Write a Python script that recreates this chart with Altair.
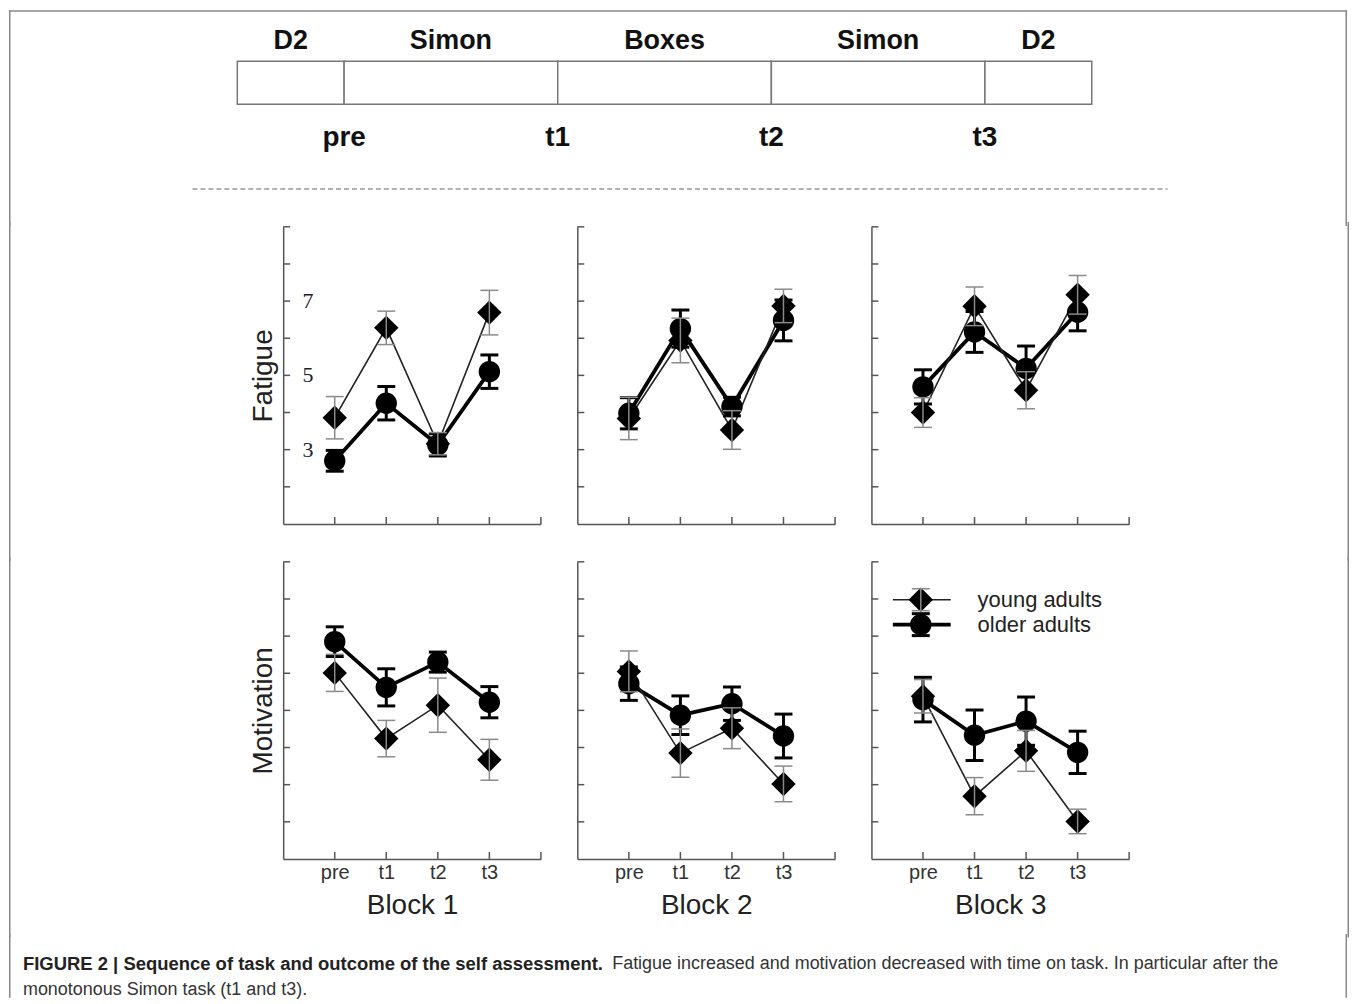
import json
import pandas as pd
import altair as alt

# ---------------- data ----------------
timepoints = ["pre", "t1", "t2", "t3"]
blocks = ["Block 1", "Block 2", "Block 3"]
measures = ["Fatigue", "Motivation"]
legend_labels = ["young adults", "older adults"]

# means and error-bar half widths, one list per block (pre, t1, t2, t3)
fatigue_young_mean = [[3.86, 6.28, 3.16, 6.69], [3.84, 5.94, 3.53, 6.87], [4.00, 6.86, 4.60, 7.17]]
fatigue_young_err = [[0.57, 0.45, 0.30, 0.60], [0.57, 0.60, 0.52, 0.45], [0.40, 0.52, 0.50, 0.52]]
fatigue_older_mean = [[2.70, 4.25, 3.13, 5.10], [3.98, 6.26, 4.16, 6.48], [4.69, 6.17, 5.19, 6.70]]
fatigue_older_err = [[0.28, 0.45, 0.30, 0.45], [0.42, 0.50, 0.25, 0.55], [0.46, 0.55, 0.60, 0.50]]

motivation_young_mean = [[6.01, 4.24, 5.14, 3.67], [6.05, 3.85, 4.52, 3.02], [5.38, 2.69, 3.91, 2.01]]
motivation_young_err = [[0.50, 0.49, 0.73, 0.55], [0.55, 0.65, 0.55, 0.48], [0.45, 0.50, 0.55, 0.33]]
motivation_older_mean = [[6.85, 5.62, 6.30, 5.22], [5.72, 4.87, 5.18, 4.31], [5.29, 4.33, 4.71, 3.87]]
motivation_older_err = [[0.40, 0.50, 0.27, 0.42], [0.45, 0.52, 0.45, 0.59], [0.60, 0.68, 0.65, 0.57]]

y_domain = [1, 9]
x_domain = [0, 5]
y_tick_values = [2, 3, 4, 5, 6, 7, 8, 9]
x_tick_values = [1, 2, 3, 4, 5]
fatigue_tick_labels = [3, 5, 7]

segments = ["D2", "Simon", "Boxes", "Simon", "D2"]
segment_lengths = [0.5, 1, 1, 1, 0.5]
assessments = ["pre", "t1", "t2", "t3"]

caption_bold = "FIGURE 2 | Sequence of task and outcome of the self assessment."
caption_rest = [
    "Fatigue increased and motivation decreased with time on task. In particular after the",
    "monotonous Simon task (t1 and t3).",
]

# ---------------- layout / style ----------------
FONT = "Liberation Sans"
AX = "#555555"
FRAME = "#888888"
FULLW = 1342
OVERLAP = 8              # frame segments of stacked blocks overlap by this much
TOP_EXT = 208.5 + OVERLAP
LEAD = -4
PW = 258.5
PH = 298
GAP = 36
LSPACER = 238.5
RSPACER = 184
ROW1_EXT = PH + 28.5 + OVERLAP
ROW2_EXT = PH + 70 + OVERLAP
CAP_EXT = 58.5
BOX_LEFT = 229
UNIT = 214.25
TICK = 7
DIAMOND = 600
CIRCLE = 460

one = pd.DataFrame({"k": [0]})


def vline(x, y1, y2):
    return alt.Chart(one).mark_rule(color=FRAME, strokeWidth=1.5, strokeCap="square").encode(
        x=alt.value(x), y=alt.value(y1), y2=alt.value(y2))


# ---------------- top timeline ----------------
starts, s = [], 0.0
for L in segment_lengths:
    starts.append(s)
    s += L
seg_df = pd.DataFrame({
    "name": segments,
    "start": starts,
    "end": [a + b for a, b in zip(starts, segment_lengths)],
})
seg_df["mid"] = (seg_df["start"] + seg_df["end"]) / 2
tp_df = pd.DataFrame({"name": assessments, "pos": list(seg_df["end"][:-1])})

xs_top = alt.Scale(domain=[-BOX_LEFT / UNIT, (FULLW - BOX_LEFT) / UNIT], nice=False, zero=False)

box = alt.Chart(seg_df).mark_rect(fill="white", stroke="#777777", strokeWidth=1.5).encode(
    x=alt.X("start:Q", scale=xs_top, axis=None), x2="end:Q",
    y=alt.value(52), y2=alt.value(95))
seg_text = alt.Chart(seg_df).mark_text(font=FONT, fontWeight="bold", fontSize=27, color="#111111",
                                       baseline="middle").encode(
    x=alt.X("mid:Q", scale=xs_top, axis=None), y=alt.value(32), text="name:N")
tp_text = alt.Chart(tp_df).mark_text(font=FONT, fontWeight="bold", fontSize=28, color="#111111",
                                     baseline="middle").encode(
    x=alt.X("pos:Q", scale=xs_top, axis=None), y=alt.value(129), text="name:N")
dashed = alt.Chart(one).mark_rule(color="#999999", strokeWidth=1.5, strokeDash=[5, 3]).encode(
    x=alt.value(184), x2=alt.value(1162), y=alt.value(180))
top_frame = alt.Chart(one).mark_rule(color=FRAME, strokeWidth=1.5, strokeCap="square").encode(
    x=alt.value(0.75), x2=alt.value(FULLW - 0.75), y=alt.value(1.5))

top_chart = alt.layer(
    box, seg_text, tp_text, dashed, top_frame,
    vline(0.75, 1.5, TOP_EXT), vline(FULLW - 0.75, 1.5, TOP_EXT)
).properties(width=FULLW, height=190)


# ---------------- panels ----------------
def panel(row, bi):
    if row == 0:
        ym, ye, om, oe = fatigue_young_mean, fatigue_young_err, fatigue_older_mean, fatigue_older_err
    else:
        ym, ye, om, oe = motivation_young_mean, motivation_young_err, motivation_older_mean, motivation_older_err
    recs = []
    for g, M, E in [(legend_labels[0], ym, ye), (legend_labels[1], om, oe)]:
        for i, tp in enumerate(timepoints):
            m, e = M[bi][i], E[bi][i]
            recs.append({"group": g, "tp": tp, "pos": i + 1, "mean": m, "lo": m - e, "hi": m + e})
    df = pd.DataFrame(recs)

    xscale = alt.Scale(domain=x_domain, nice=False, zero=False)
    yscale = alt.Scale(domain=y_domain, nice=False, zero=False)
    if row == 1:
        xaxis = alt.Axis(domain=True, domainColor=AX, domainWidth=1.5, ticks=False, grid=False,
                         values=[1, 2, 3, 4],
                         labelExpr=json.dumps(timepoints) + "[datum.value - 1]",
                         labelFont=FONT, labelFontSize=20, labelColor="#333333", labelPadding=4,
                         titleFont=FONT, titleFontSize=28, titleFontWeight="normal",
                         titleColor="#222222", titlePadding=9)
        xtitle = blocks[bi]
    else:
        xaxis = alt.Axis(domain=True, domainColor=AX, domainWidth=1.5, ticks=False, grid=False,
                         labels=False)
        xtitle = None
    yaxis = alt.Axis(domain=True, domainColor=AX, domainWidth=1.5, ticks=False, grid=False,
                     labels=False, titleFont=FONT, titleFontSize=28, titleFontWeight="normal",
                     titleColor="#222222", titlePadding=6)
    ytitle = measures[row] if bi == 0 else None

    def X(f):
        return alt.X(f, type="quantitative", scale=xscale, axis=xaxis, title=xtitle)

    def Y(f):
        return alt.Y(f, type="quantitative", scale=yscale, axis=yaxis, title=ytitle)

    ytk = alt.Chart(pd.DataFrame({"v": y_tick_values})).mark_rule(color=AX, strokeWidth=1.5).encode(
        y=Y("v"), x=alt.value(0), x2=alt.value(TICK))
    xtk = alt.Chart(pd.DataFrame({"v": x_tick_values})).mark_rule(color=AX, strokeWidth=1.5).encode(
        x=X("v"), y=alt.value(PH), y2=alt.value(PH - TICK))

    young = alt.Chart(df).transform_filter(alt.datum.group == legend_labels[0])
    older = alt.Chart(df).transform_filter(alt.datum.group == legend_labels[1])

    line_o = older.mark_line(color="black", strokeWidth=3.8).encode(x=X("pos"), y=Y("mean"))
    line_y = young.mark_line(color="#222222", strokeWidth=1.6).encode(x=X("pos"), y=Y("mean"))
    pt_o = older.mark_point(shape="circle", filled=True, size=CIRCLE, color="black", opacity=1).encode(
        x=X("pos"), y=Y("mean"))
    pt_y = young.mark_point(shape="diamond", filled=True, size=DIAMOND, color="black", opacity=1).encode(
        x=X("pos"), y=Y("mean"))

    def errbars(base, color, w):
        bar = base.mark_rule(color=color, strokeWidth=w).encode(x=X("pos"), y=Y("lo"), y2="hi")
        cap_lo = base.mark_tick(orient="horizontal", size=18, thickness=w, color=color, opacity=1).encode(
            x=X("pos"), y=Y("lo"))
        cap_hi = base.mark_tick(orient="horizontal", size=18, thickness=w, color=color, opacity=1).encode(
            x=X("pos"), y=Y("hi"))
        return [bar, cap_lo, cap_hi]

    layers = [ytk, xtk, line_o, line_y, pt_o, pt_y]
    layers += errbars(older, "black", 3)
    layers += errbars(young, "#8a8a8a", 1.5)

    if row == 0 and bi == 0:
        layers.append(alt.Chart(pd.DataFrame({"v": fatigue_tick_labels})).mark_text(
            font="Liberation Serif", fontSize=22, color="#222222", align="center", baseline="middle").encode(
            y=Y("v"), x=alt.value(25), text="v:Q"))

    if row == 1 and bi == 2:
        for i, lab in enumerate(legend_labels):
            y0 = 38 + 25 * i
            ld = alt.Chart(pd.DataFrame({"label": [lab]}))
            if i == 0:
                lcol, lw, shp, sz, ecol, ew = "#222222", 1.6, "diamond", DIAMOND, "#8a8a8a", 1.5
            else:
                lcol, lw, shp, sz, ecol, ew = "black", 3.8, "circle", CIRCLE, "black", 3
            layers.append(ld.mark_rule(color=lcol, strokeWidth=lw).encode(
                x=alt.value(21.5), x2=alt.value(79.5), y=alt.value(y0)))
            layers.append(ld.mark_point(shape=shp, filled=True, size=sz, color="black", opacity=1).encode(
                x=alt.value(49.5), y=alt.value(y0)))
            layers.append(ld.mark_rule(color=ecol, strokeWidth=ew).encode(
                x=alt.value(49.5), y=alt.value(y0 - 11), y2=alt.value(y0 + 11)))
            for dy in (-11, 11):
                layers.append(ld.mark_rule(color=ecol, strokeWidth=ew).encode(
                    x=alt.value(40.5), x2=alt.value(58.5), y=alt.value(y0 + dy)))
            layers.append(ld.mark_text(font=FONT, fontSize=22, color="#222222", align="left",
                                       baseline="middle").encode(
                x=alt.value(106.5), y=alt.value(y0), text="label:N"))

    return alt.layer(*layers).properties(width=PW, height=PH)


def panel_row(row, ext):
    left = vline(0.75, LEAD, ext).properties(width=LSPACER, height=PH)
    right = vline(RSPACER - 0.75, LEAD, ext).properties(width=RSPACER, height=PH)
    return alt.hconcat(left, panel(row, 0), panel(row, 1), panel(row, 2), right,
                       spacing=GAP, bounds="flush")


row1 = panel_row(0, ROW1_EXT)
row2 = panel_row(1, ROW2_EXT)

# ---------------- caption ----------------
cap_bold = alt.Chart(pd.DataFrame({"t": [caption_bold]})).mark_text(
    font=FONT, fontWeight="bold", fontSize=18.5, color="#222222", align="left", baseline="middle").encode(
    x=alt.value(14), y=alt.value(25.5), text="t:N")
cap_r1 = alt.Chart(pd.DataFrame({"t": [caption_rest[0]]})).mark_text(
    font=FONT, fontSize=18, color="#333333", align="left", baseline="middle").encode(
    x=alt.value(605), y=alt.value(25.5), text="t:N")
cap_r2 = alt.Chart(pd.DataFrame({"t": [caption_rest[1]]})).mark_text(
    font=FONT, fontSize=18, color="#333333", align="left", baseline="middle").encode(
    x=alt.value(14), y=alt.value(51.5), text="t:N")
caption = alt.layer(
    cap_bold, cap_r1, cap_r2, vline(0.75, LEAD, CAP_EXT), vline(FULLW - 0.75, LEAD, CAP_EXT)
).properties(width=FULLW, height=40)

chart = alt.vconcat(top_chart, row1, row2, caption, spacing=-OVERLAP, bounds="full").properties(
    padding=0, background="white"
).configure_view(strokeWidth=0).configure_axis(grid=False)

chart.save("out.html", embed_options={"renderer": "svg", "actions": False})
